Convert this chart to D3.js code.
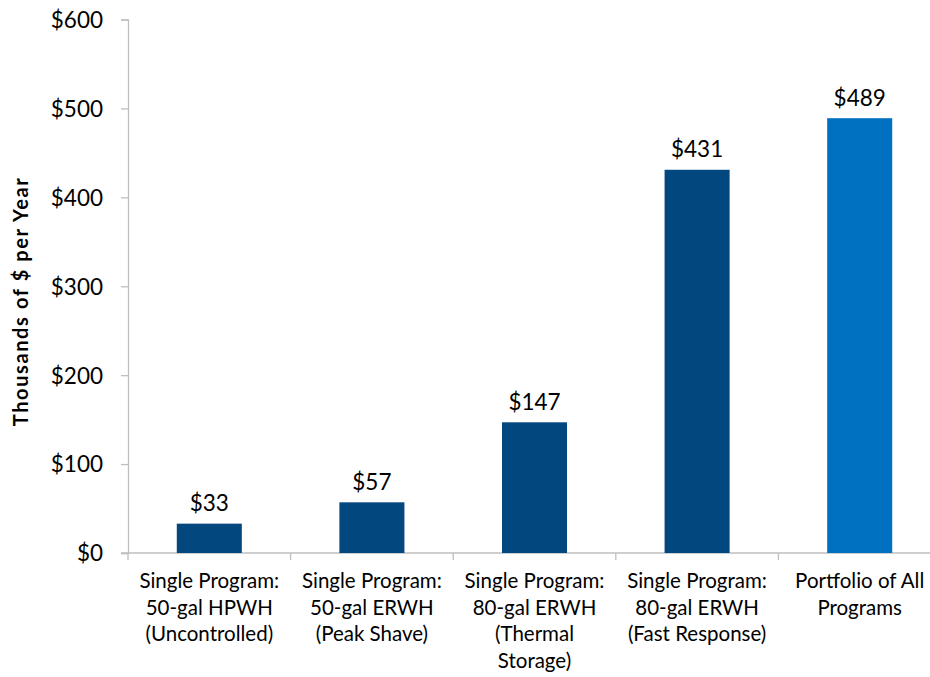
<!DOCTYPE html>
<html>
<head>
<meta charset="utf-8">
<script src="https://cdn.jsdelivr.net/npm/d3@7"></script>
<style>
  body { margin: 0; background: #fff; }
  svg text { font-family: Lato, "Open Sans", sans-serif; fill: #000; }
</style>
</head>
<body>
<div id="chart"></div>
<script>
// chart data
const categories = [
  ["Single Program:", "50-gal HPWH", "(Uncontrolled)"],
  ["Single Program:", "50-gal ERWH", "(Peak Shave)"],
  ["Single Program:", "80-gal ERWH", "(Thermal", "Storage)"],
  ["Single Program:", "80-gal ERWH", "(Fast Response)"],
  ["Portfolio of All", "Programs"]
];
const values = [33, 57, 147, 431, 489];
const yTicks = [0, 100, 200, 300, 400, 500, 600];
const yTitle = "Thousands of $ per Year";

const width = 930, height = 677;
const plotLeft = 128, plotRight = 941, plotTop = 19.5, plotBottom = 553;
const darkBlue = "#03477f", lightBlue = "#0070c0", axisGray = "#bfbfbf";

const svg = d3.select("#chart").append("svg")
  .attr("width", width)
  .attr("height", height);

const x = d3.scaleBand()
  .domain(d3.range(values.length))
  .range([plotLeft, plotRight])
  .paddingInner(0.6)
  .paddingOuter(0.3);

const y = d3.scaleLinear().domain([0, 600]).range([plotBottom, plotTop]);

// y axis
const yAxis = svg.append("g")
  .attr("transform", "translate(" + plotLeft + ",0)")
  .call(d3.axisLeft(y).tickValues(yTicks).tickFormat(d => "$" + d).tickSize(7).tickPadding(18));
yAxis.select(".domain").attr("stroke", axisGray).attr("stroke-width", 1.3);
yAxis.selectAll(".tick line").attr("stroke", axisGray).attr("stroke-width", 1.3);
yAxis.selectAll(".tick text").attr("font-size", 22.5).attr("dy", "0.35em").style("font-family", "Lato, sans-serif");

// x axis line + category separators
svg.append("line")
  .attr("x1", plotLeft - 7).attr("x2", plotRight)
  .attr("y1", y(0)).attr("y2", y(0))
  .attr("stroke", axisGray).attr("stroke-width", 1.3);

const step = x.step();
svg.selectAll(".sep")
  .data(d3.range(values.length + 1))
  .enter().append("line")
  .attr("class", "sep")
  .attr("x1", d => plotLeft + d * step)
  .attr("x2", d => plotLeft + d * step)
  .attr("y1", y(0))
  .attr("y2", y(0) + 7)
  .attr("stroke", axisGray).attr("stroke-width", 1.3);

// bars
svg.selectAll(".bar")
  .data(values)
  .enter().append("rect")
  .attr("class", "bar")
  .attr("x", (d, i) => x(i))
  .attr("width", x.bandwidth())
  .attr("y", d => y(d))
  .attr("height", d => y(0) - y(d))
  .attr("fill", (d, i) => i == values.length - 1 ? lightBlue : darkBlue);

// value labels
svg.selectAll(".val")
  .data(values)
  .enter().append("text")
  .attr("class", "val")
  .attr("x", (d, i) => x(i) + x.bandwidth() / 2)
  .attr("y", d => y(d) - 12.5)
  .attr("text-anchor", "middle")
  .attr("font-size", 22.5)
  .text(d => "$" + d);

// category labels
const cat = svg.selectAll(".cat")
  .data(categories)
  .enter().append("text")
  .attr("class", "cat")
  .attr("text-anchor", "middle")
  .attr("font-size", 20.5);

cat.selectAll("tspan")
  .data((d, i) => d.map(t => ({ t: t, i: i })))
  .enter().append("tspan")
  .attr("x", d => x(d.i) + x.bandwidth() / 2)
  .attr("y", (d, j) => 588 + j * 26.7)
  .text(d => d.t);

// y title
svg.append("text")
  .attr("transform", "translate(28," + ((plotTop + plotBottom) / 2 + 16) + ") rotate(-90)")
  .attr("text-anchor", "middle")
  .attr("font-size", 20)
  .attr("font-weight", "bold")
  .attr("textLength", 248)
  .attr("lengthAdjust", "spacing")
  .text(yTitle);
</script>
</body>
</html>
